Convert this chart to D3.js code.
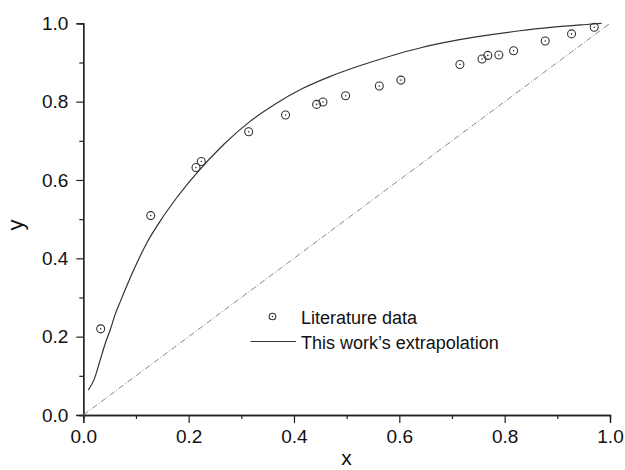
<!DOCTYPE html>
<html>
<head>
<meta charset="utf-8">
<script src="https://cdn.jsdelivr.net/npm/d3@7"></script>
<style>
  body { margin: 0; background: #fff; }
  svg { display: block; font-family: "Liberation Sans", Arial, sans-serif; }
</style>
</head>
<body>
<svg id="chart"></svg>
<script>
// literature data points
var litX = [0.033, 0.128, 0.214, 0.224, 0.314, 0.384, 0.443, 0.455, 0.498, 0.562,
            0.603, 0.715, 0.757, 0.768, 0.789, 0.817, 0.877, 0.927, 0.970];
var litY = [0.220, 0.509, 0.632, 0.647, 0.723, 0.766, 0.793, 0.799, 0.815, 0.840,
            0.855, 0.895, 0.909, 0.918, 0.919, 0.930, 0.955, 0.973, 0.990];

// extrapolation curve
var curveX = [0.0095, 0.020, 0.032, 0.041, 0.051, 0.060, 0.071, 0.095, 0.120, 0.146,
              0.177, 0.215, 0.266, 0.316, 0.367, 0.417, 0.468, 0.519, 0.582, 0.639,
              0.702, 0.765, 0.829, 0.892, 0.955, 0.984];
var curveY = [0.064, 0.089, 0.140, 0.180, 0.217, 0.255, 0.292, 0.368, 0.438, 0.495,
              0.554, 0.617, 0.690, 0.749, 0.796, 0.834, 0.864, 0.889, 0.916, 0.937,
              0.955, 0.969, 0.981, 0.990, 0.997, 1.000];

var diagX = [0, 1];
var diagY = [0, 1];

var xTicks = [0, 0.2, 0.4, 0.6, 0.8, 1.0];
var yTicks = [0, 0.2, 0.4, 0.6, 0.8, 1.0];
var minorTicks = [0.1, 0.3, 0.5, 0.7, 0.9];

var width = 625;
var height = 470;

var svg = d3.select("#chart")
            .attr("width", width)
            .attr("height", height);

var x = d3.scaleLinear().domain([0, 1]).range([83.3, 610]);
var y = d3.scaleLinear().domain([0, 1]).range([415, 23.3]);

// axes
svg.append("g")
   .attr("transform", "translate(0," + y(0) + ")")
   .call(d3.axisBottom(x).tickValues(xTicks).tickSize(8).tickPadding(6.5)
         .tickFormat(d3.format(".1f")));
svg.append("g")
   .attr("transform", "translate(0," + y(0) + ")")
   .call(d3.axisBottom(x).tickValues(minorTicks).tickSize(4).tickFormat(""));

svg.append("g")
   .attr("transform", "translate(" + x(0) + ",0)")
   .call(d3.axisLeft(y).tickValues(yTicks).tickSize(7).tickPadding(8)
         .tickFormat(d3.format(".1f")));
svg.append("g")
   .attr("transform", "translate(" + x(0) + ",0)")
   .call(d3.axisLeft(y).tickValues(minorTicks).tickSize(4).tickFormat(""));

svg.selectAll(".domain").attr("stroke", "#222").attr("stroke-width", 1.3);
svg.selectAll(".tick line").attr("stroke", "#222").attr("stroke-width", 1.2);
svg.selectAll(".tick text")
   .attr("fill", "#111")
   .style("font-size", "19px")
   .style("font-family", "Liberation Sans, Arial, sans-serif");

// axis titles
svg.append("text")
   .attr("x", 346.5)
   .attr("y", 465)
   .attr("text-anchor", "middle")
   .style("font-size", "21px")
   .attr("fill", "#111")
   .text("x");

svg.append("text")
   .attr("transform", "translate(22.5,225) rotate(-90)")
   .attr("text-anchor", "middle")
   .style("font-size", "22px")
   .attr("fill", "#111")
   .text("y");

// diagonal reference line
svg.append("path")
   .datum(d3.range(diagX.length))
   .attr("d", d3.line()
      .x(function(i) { return x(diagX[i]); })
      .y(function(i) { return y(diagY[i]); }))
   .attr("fill", "none")
   .attr("stroke", "#888")
   .attr("stroke-width", 1)
   .attr("stroke-dasharray", "6,2,1,2");

// extrapolation curve
svg.append("path")
   .datum(d3.range(curveX.length))
   .attr("d", d3.line()
      .x(function(i) { return x(curveX[i]); })
      .y(function(i) { return y(curveY[i]); })
      .curve(d3.curveMonotoneX))
   .attr("fill", "none")
   .attr("stroke", "#333")
   .attr("stroke-width", 1.2);

// literature points
var pts = svg.selectAll(".pt")
   .data(d3.range(litX.length))
   .enter()
   .append("g")
   .attr("class", "pt")
   .attr("transform", function(i) {
     return "translate(" + x(litX[i]) + "," + y(litY[i]) + ")";
   });
pts.append("circle")
   .attr("r", 4)
   .attr("fill", "none")
   .attr("stroke", "#333")
   .attr("stroke-width", 1.1);
pts.append("circle")
   .attr("r", 0.8)
   .attr("fill", "#333");

// legend
var legend = svg.append("g");
legend.append("circle")
   .attr("cx", 272.5).attr("cy", 316.5).attr("r", 3.3)
   .attr("fill", "none").attr("stroke", "#333").attr("stroke-width", 1.1);
legend.append("circle")
   .attr("cx", 272.5).attr("cy", 316.5).attr("r", 0.8)
   .attr("fill", "#333");
legend.append("text")
   .attr("x", 301).attr("y", 324)
   .style("font-size", "18px").attr("fill", "#111")
   .text("Literature data");
legend.append("line")
   .attr("x1", 250.5).attr("x2", 296)
   .attr("y1", 341.5).attr("y2", 341.5)
   .attr("stroke", "#333").attr("stroke-width", 1.2);
legend.append("text")
   .attr("x", 301).attr("y", 348.5)
   .style("font-size", "18px").attr("fill", "#111")
   .text("This work\u2019s extrapolation");
</script>
</body>
</html>
